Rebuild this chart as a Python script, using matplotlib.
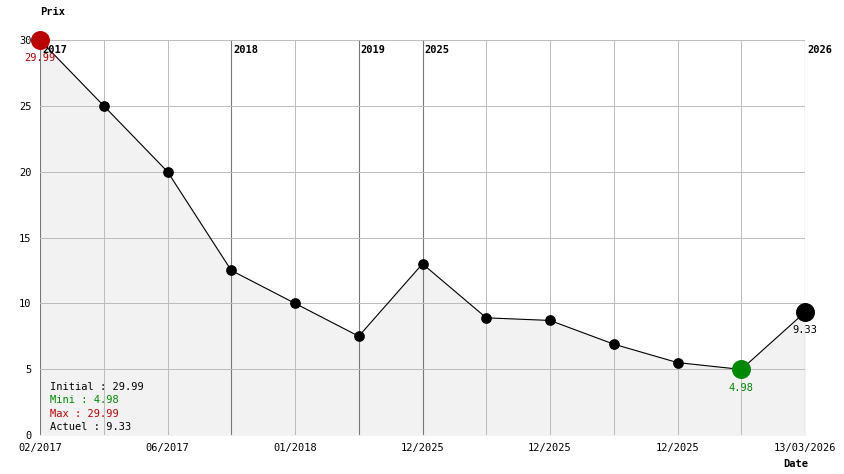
import matplotlib.pyplot as plt
import numpy as np

prices = [29.99, 25, 20, 12.5, 10, 7.5, 13, 8.9, 8.7, 6.9, 5.5, 4.98, 9.33]
tick_labels = ["02/2017", "", "06/2017", "", "01/2018", "", "12/2025", "", "12/2025", "", "12/2025", "", "13/03/2026"]
years = {0: "2017", 3: "2018", 5: "2019", 6: "2025", 12: "2026"}

plt.rcParams['font.family'] = 'DejaVu Sans Mono'
plt.rcParams['font.size'] = 7.5

fig = plt.figure(figsize=(8.44, 4.74), dpi=100)
ax = fig.add_axes([40 / 844, 39 / 474, 765 / 844, 395 / 474])
x = np.arange(len(prices))

ax.fill_between(x, prices, 0, color="#f2f2f2", zorder=0)
ax.plot(x, prices, color="black", lw=0.8, zorder=2)
ax.scatter(x, prices, s=45, color="black", zorder=3, clip_on=False)

imin = int(np.argmin(prices))
imax = int(np.argmax(prices))
ax.scatter([imax], [prices[imax]], s=160, color="#bb0000", zorder=6, clip_on=False)
ax.scatter([imin], [prices[imin]], s=160, color="#008800", zorder=6, clip_on=False)
ax.scatter([x[-1]], [prices[-1]], s=160, color="black", zorder=6, clip_on=False)
ax.text(imax, prices[imax] - 1.0, f"{prices[imax]}", color="#bb0000", ha="center", va="top", zorder=7)
ax.text(imin, prices[imin] - 1.0, f"{prices[imin]}", color="#008800", ha="center", va="top")
ax.text(x[-1], prices[-1] - 1.0, f"{prices[-1]}", color="black", ha="center", va="top")

for i in x:
    ax.axvline(i, color="#bbbbbb", lw=0.7, zorder=1)
for i, yr in years.items():
    ax.axvline(i, color="#777777", lw=0.8, zorder=1)
    ax.text(i + 0.03, 29.6, yr, fontweight="bold", ha="left", va="top", zorder=5)
for v in range(5, 31, 5):
    ax.axhline(v, color="#bbbbbb", lw=0.7, zorder=1)

ax.set_xlim(0, len(prices) - 1)
ax.set_ylim(0, 30)
ax.set_yticks(range(0, 31, 5))
ax.set_xticks(x)
ax.set_xticklabels(tick_labels)
ax.tick_params(length=0, pad=6)
for s in ax.spines.values():
    s.set_visible(False)

ax.text(0.15, 3.4, "Initial : 29.99", color="black")
ax.text(0.15, 2.4, "Mini : 4.98", color="#008800")
ax.text(0.15, 1.4, "Max : 29.99", color="#bb0000")
ax.text(0.15, 0.4, "Actuel : 9.33", color="black")

fig.text(40 / 844, 1 - 12 / 474, "Prix", fontweight="bold", va="center")
fig.text(783 / 844, 1 - 464 / 474, "Date", fontweight="bold", va="center")

fig.savefig("out.png", dpi=100)
